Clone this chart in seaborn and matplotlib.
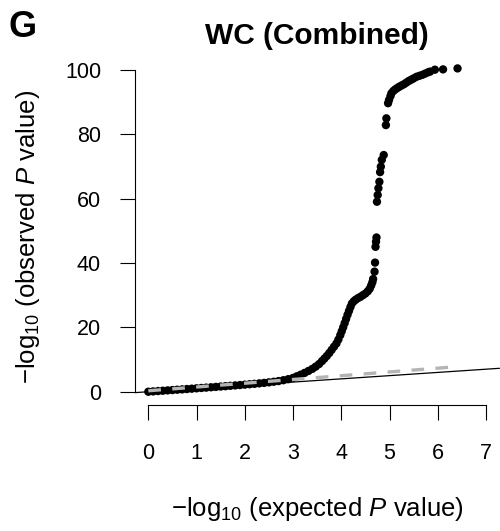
import matplotlib
matplotlib.use("Agg")
import matplotlib.pyplot as plt
import seaborn as sns
import pandas as pd

# QQ plot values: expected vs observed -log10 P
expected = [
    0.00, 0.10, 0.20, 0.30, 0.40, 0.50, 0.60, 0.70, 0.80, 0.90,
    1.00, 1.10, 1.20, 1.30, 1.40, 1.50, 1.60, 1.70, 1.80, 1.90,
    2.00, 2.10, 2.20, 2.30, 2.40, 2.50, 2.60, 2.70, 2.80, 2.90,
    3.00, 3.08, 3.16, 3.24, 3.32, 3.40, 3.47, 3.54, 3.60, 3.65,
    3.70, 3.75, 3.80, 3.85, 3.90, 3.94, 3.98, 4.01, 4.04, 4.07,
    4.10, 4.13, 4.16, 4.19, 4.22, 4.26, 4.30, 4.35, 4.40, 4.45,
    4.50, 4.55, 4.59, 4.62, 4.645, 4.66, 4.69, 4.70,
    4.71, 4.72, 4.73,
    4.74, 4.755, 4.77, 4.79, 4.805, 4.82, 4.84, 4.88,
    4.925, 4.935,
    4.97, 4.99, 5.02, 5.04, 5.08, 5.12, 5.16, 5.20, 5.25, 5.30,
    5.35, 5.40, 5.45, 5.50, 5.56, 5.62, 5.68, 5.74, 5.80, 5.84,
    5.94, 6.11, 6.41,
]
observed = [
    0.00, 0.10, 0.21, 0.31, 0.42, 0.52, 0.63, 0.73, 0.84, 0.95,
    1.06, 1.17, 1.28, 1.39, 1.50, 1.61, 1.72, 1.84, 1.96, 2.08,
    2.20, 2.33, 2.46, 2.60, 2.75, 2.92, 3.10, 3.32, 3.58, 3.90,
    4.30, 4.80, 5.30, 5.85, 6.45, 7.10, 7.80, 8.60, 9.50, 10.30,
    11.10, 12.00, 13.00, 14.00, 15.00, 16.20, 17.60, 18.80, 20.00, 21.30,
    22.60, 23.90, 25.10, 26.30, 27.40, 28.10, 28.60, 29.10, 29.50, 30.00,
    30.50, 31.20, 32.00, 33.00, 34.00, 35.00, 37.30, 40.10,
    45.00, 46.60, 47.90,
    59.00, 61.10, 63.20, 65.20, 68.20, 69.90, 72.00, 73.50,
    82.80, 84.90,
    89.60, 90.60, 91.80, 92.70, 93.40, 93.90, 94.30, 94.70, 95.10, 95.50,
    96.00, 96.50, 96.90, 97.30, 97.80, 98.10, 98.40, 98.80, 99.20, 99.40,
    100.00, 100.10, 100.40,
]

# 95% band upper edge (dashed grey)
band_x = [0.00, 6.41]
band_y = [0.30, 7.80]

x_ticks = [0, 1, 2, 3, 4, 5, 6, 7]
y_ticks = [0, 20, 40, 60, 80, 100]

sns.set_theme(style="white")
plt.rcParams["font.family"] = ["Liberation Sans", "DejaVu Sans"]
plt.rcParams["mathtext.fontset"] = "custom"
plt.rcParams["mathtext.rm"] = "Liberation Sans"
plt.rcParams["mathtext.it"] = "Liberation Sans:italic"
plt.rcParams["mathtext.bf"] = "Liberation Sans:bold"

fig = plt.figure(figsize=(5.00, 5.31), dpi=100)
ax = fig.add_axes([0.2696, 0.2380, 0.7294, 0.6550])

df = pd.DataFrame({"expected": expected, "observed": observed})

# identity line across the whole panel
ax.axline((0, 0), slope=1, color="black", lw=0.9, zorder=1)

sns.scatterplot(data=df, x="expected", y="observed", ax=ax, color="black",
                s=36, linewidth=0, edgecolor="none", zorder=2, legend=False)

sns.lineplot(x=band_x, y=band_y, ax=ax, color="#b4b4b4", lw=2.4,
             dashes=False, zorder=3)
ax.lines[-1].set_dashes((3.8, 3.4))

ax.set_xlim(-0.28, 7.28)
ax.set_ylim(-4, 104)
ax.set_xticks(x_ticks)
ax.set_yticks(y_ticks)
ax.set_xticklabels([str(v) for v in x_ticks])
ax.set_yticklabels([str(v) for v in y_ticks])

for side in ("top", "right"):
    ax.spines[side].set_visible(False)
for side in ("left", "bottom"):
    ax.spines[side].set_color("black")
    ax.spines[side].set_linewidth(0.8)
ax.spines["left"].set_bounds(0, 100)
ax.spines["bottom"].set_bounds(0, 7)

ax.tick_params(axis="both", direction="out", length=10.8, width=0.8,
               color="black", labelsize=15.5, labelcolor="black",
               left=True, bottom=True)
ax.tick_params(axis="y", pad=13.5)
ax.tick_params(axis="x", pad=17)

ax.set_xlabel("\u2212log$_{10}$ (expected $\\mathit{P}$ value)", fontsize=18.5,
              color="black", va="center")
ax.set_ylabel("\u2212log$_{10}$ (observed $\\mathit{P}$ value)", fontsize=18.5,
              color="black", va="center")
ax.xaxis.set_label_coords(0.5, -0.30)
ax.yaxis.set_label_coords(-0.293, 0.482)

ax.set_title("WC (Combined)", fontsize=21.5, fontweight="bold", pad=9.2,
             color="black")
fig.text(0.016, 1 - 37 / 531, "G", fontsize=26, fontweight="bold",
         ha="left", va="baseline", color="black")

fig.savefig("out.png", dpi=100)
